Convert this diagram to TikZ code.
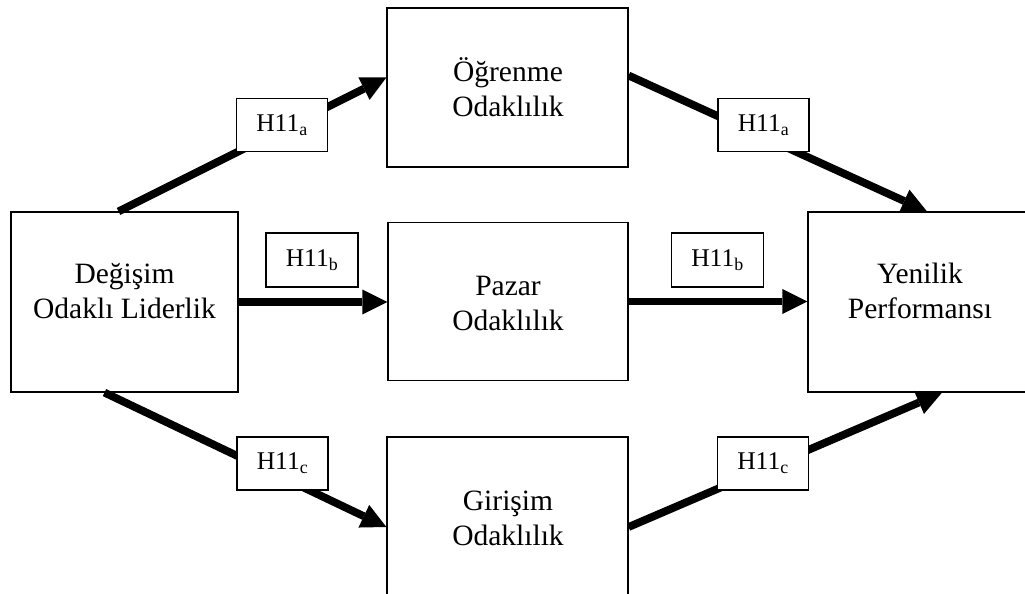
\documentclass[tikz,border=0pt]{standalone}
\usepackage{fontspec}
\setmainfont{Liberation Serif}
\usetikzlibrary{arrows.meta,calc}
\begin{document}
\begin{tikzpicture}[x=1pt,y=-1pt,
  box/.style={draw, line width=1.2pt, inner sep=0pt},
  txt/.style={inner sep=0pt, font=\fontsize{29.5}{35}\selectfont},
  lab/.style={draw, fill=white, line width=1.2pt, inner sep=0pt,
    minimum width=91pt, minimum height=53pt, font=\fontsize{25.5}{30}\selectfont},
  conn/.style={line width=7.8pt, -{Triangle[length=25pt,width=25pt,line width=0pt]}}]
\clip (0,0) rectangle (1025,594);

% main construct boxes
\node[box, minimum width=227pt, minimum height=180pt] (L) at (124.5,302) {};
\node[box, minimum width=241pt, minimum height=159pt] (T) at (507.5,87.5) {};
\node[box, minimum width=240pt, minimum height=158pt] (M) at (508,301.5) {};
\node[box, minimum width=241pt, minimum height=180pt] (B) at (507.5,527) {};
\node[box, minimum width=232pt, minimum height=180pt] (R) at (924,302) {};

% construct names
\node[txt] (Lt) at (124.5,294) {\begin{tabular}{@{}c@{}}Değişim\\Odaklı Liderlik\end{tabular}};
\node[txt] (Tt) at (508,92) {\begin{tabular}{@{}c@{}}Öğrenme\\Odaklılık\end{tabular}};
\node[txt] (Mt) at (508,305.5) {\begin{tabular}{@{}c@{}}Pazar\\Odaklılık\end{tabular}};
\node[txt] (Bt) at (508,520.5) {\begin{tabular}{@{}c@{}}Girişim\\Odaklılık\end{tabular}};
\node[txt] (Rt) at (920,294) {\begin{tabular}{@{}c@{}}Yenilik\\Performansı\end{tabular}};

% paths
\draw[conn] ($(L.north)+(-6,0)$) -- ($(T.west)+(0,-10)$);
\draw[conn] ($(T.east)+(0,-12)$) -- ($(R.north)+(3,0)$);
\draw[conn] (L.east) -- (L.east -| M.west);
\draw[conn] (M.east) -- (M.east -| R.west);
\draw[conn] ($(L.south)+(-20,0)$) -- (B.west);
\draw[conn] (B.east) -- ($(R.south)+(18,0)$);

% hypothesis labels
\node[lab] (a1) at (282,125) {H11\textsubscript{a}};
\node[lab, minimum width=92pt, minimum height=54pt] (b1) at (312,260) {H11\textsubscript{b}};
\node[lab] (c1) at (282.5,463.5) {H11\textsubscript{c}};
\node[lab] (a2) at (763.5,125) {H11\textsubscript{a}};
\node[lab, minimum width=92pt, minimum height=54pt] (b2) at (717.5,260) {H11\textsubscript{b}};
\node[lab] (c2) at (763,463.5) {H11\textsubscript{c}};
\end{tikzpicture}
\end{document}
